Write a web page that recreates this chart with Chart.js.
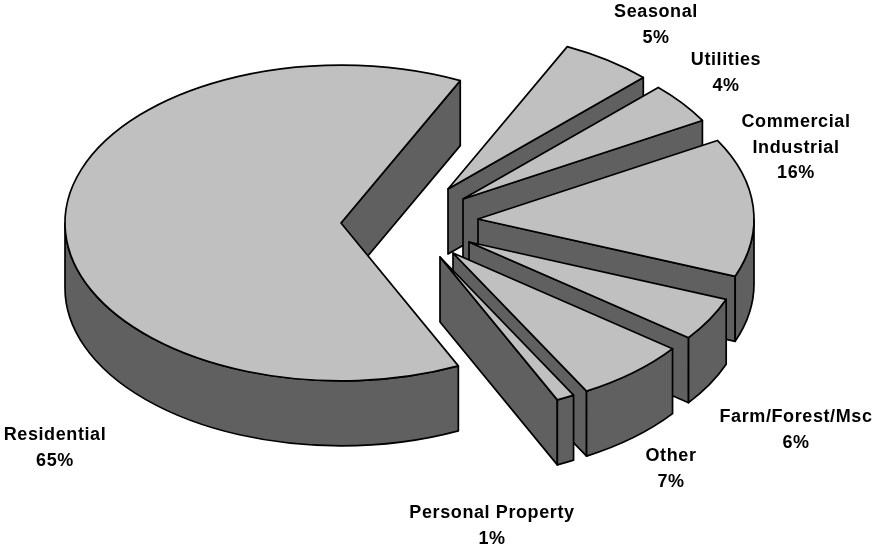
<!DOCTYPE html>
<html>
<head>
<meta charset="utf-8">
<style>html,body{margin:0;padding:0;background:#fff}canvas{display:block}</style>
<script src="https://cdn.jsdelivr.net/npm/chart.js@4"></script>
</head>
<body>
<canvas id="c" width="877" height="548"></canvas>
<script>
// Slice order follows the picture clockwise, starting at Seasonal.
const categories = ["Seasonal", "Utilities", "Commercial\nIndustrial", "Farm/Forest/Msc", "Other", "Personal Property", "Residential"];
// Printed percentages (as shown; they add up to 104).
const percentLabels = ["5%", "4%", "16%", "6%", "7%", "1%", "65%"];
const sliceShares = [5.4, 4.2, 14.2, 4.45, 6.6, 1.05, 64.1];

const TILT = 0.572, DEPTH = 65, TOP = "#c0c0c0", WALL = "#606060";
const explode = [[9.5,-85],[24.5,-75],[39.5,-55],[30.5,-32],[14.5,-21],[1.5,-17],[-97.5,-51]];
const labelAnchors = [[656,12],[726,60],[796,122],[796,417],[671,456],[492,513],[55,435]];

const pie3d = {
  id: "pie3d",
  beforeDatasetsDraw(chart) {
    const ctx = chart.ctx;
    const arcs = chart.getDatasetMeta(0).data;
    ctx.save();
    ctx.lineWidth = 1.7; ctx.strokeStyle = "#000"; ctx.lineJoin = "round";
    arcs.forEach((el, i) => {
      const cx = el.x + explode[i][0], cy = el.y + explode[i][1];
      const r = el.outerRadius, a0 = el.startAngle, a1 = el.endAngle;
      const rim = a => [cx + r * Math.cos(a), cy + r * TILT * Math.sin(a)];
      const quad = a => {
        const p = rim(a);
        ctx.beginPath();
        ctx.moveTo(cx, cy); ctx.lineTo(p[0], p[1]);
        ctx.lineTo(p[0], p[1] + DEPTH); ctx.lineTo(cx, cy + DEPTH); ctx.closePath();
        ctx.fillStyle = WALL; ctx.fill(); ctx.stroke();
      };
      if (Math.cos(a0) < 0) quad(a0);
      if (Math.cos(a1) > 0) quad(a1);
      // Outer wall: only the part of the rim that faces the viewer.
      for (let k = -1; k <= 2; k++) {
        const s = Math.max(a0, 2 * Math.PI * k), e = Math.min(a1, Math.PI + 2 * Math.PI * k);
        if (e <= s) continue;
        ctx.beginPath();
        ctx.ellipse(cx, cy, r, r * TILT, 0, s, e);
        ctx.ellipse(cx, cy + DEPTH, r, r * TILT, 0, e, s, true);
        ctx.closePath();
        ctx.fillStyle = WALL; ctx.fill(); ctx.stroke();
      }
      // Top face: the library's arc element, squashed into the tilted plane.
      ctx.save();
      ctx.translate(explode[i][0], explode[i][1] + el.y);
      ctx.scale(1, TILT);
      ctx.translate(0, -el.y);
      el.draw(ctx);
      ctx.restore();
      ctx.beginPath();
      ctx.moveTo(cx, cy);
      ctx.ellipse(cx, cy, r, r * TILT, 0, a0, a1);
      ctx.closePath();
      ctx.stroke();
    });
    ctx.fillStyle = "#000";
    ctx.font = "bold 18px 'Liberation Sans', Arial, sans-serif";
    ctx.letterSpacing = "0.6px";
    ctx.textAlign = "center"; ctx.textBaseline = "middle";
    categories.forEach((name, i) => {
      const lines = name.split("\n").concat(percentLabels[i]);
      lines.forEach((t, j) => ctx.fillText(t, labelAnchors[i][0], labelAnchors[i][1] + j * 25.7));
    });
    ctx.restore();
    return false;
  }
};

new Chart(document.getElementById("c"), {
  type: "pie",
  data: {
    labels: categories,
    datasets: [{ data: sliceShares, backgroundColor: TOP, borderWidth: 0 }]
  },
  options: {
    responsive: false, animation: false, rotation: 25.6, radius: 276,
    plugins: { legend: { display: false }, tooltip: { enabled: false } }
  },
  plugins: [pie3d]
});
</script>
</body>
</html>
